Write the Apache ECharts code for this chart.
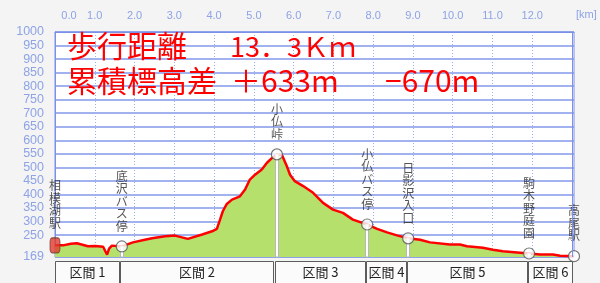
<!DOCTYPE html>
<html>
<head>
<meta charset="utf-8">
<script src="https://cdn.jsdelivr.net/npm/echarts@6/dist/echarts.min.js"></script>
<style>
html,body{margin:0;padding:0;background:#f4f4f4;}
#chart{width:600px;height:283px;}
</style>
</head>
<body>
<div id="chart"></div>
<script>
// ---- data ----
var profileKm   = [0.00,0.20,0.40,0.55,0.83,1.01,1.21,1.26,1.31,1.36,1.43,1.68,1.96,2.26,2.44,2.77,3.02,3.34,3.70,3.95,4.07,4.15,4.22,4.32,4.45,4.65,4.78,4.90,5.03,5.20,5.33,5.46,5.58,5.71,5.83,5.91,6.03,6.24,6.49,6.74,6.99,7.24,7.49,7.85,8.10,8.35,8.62,8.88,9.18,9.43,9.93,10.18,10.36,10.76,11.01,11.26,11.62,11.92,12.20,12.52,12.70,13.05];
var profileElev = [212,212,218,220,209,210,207,192,178,200,211,208,223,233,238,246,248,236,252,264,273,307,338,365,381,393,418,455,473,492,517,535,548,545,504,473,449,431,406,369,344,332,307,289,273,260,248,238,233,223,215,215,209,203,196,190,186,182,178,178,174,172];

var stationNames = ['相模湖駅','底沢バス停','小仏峠','小仏バス停','日影沢入口','駒木野庭園','高尾駅'];
var stationKm    = [0, 1.68, 5.58, 7.85, 8.88, 11.92, 13.05];
var stationElev  = [212, 208, 548, 289, 238, 182, 172];

var sectionNames = ['区間 1','区間 2','区間 3','区間 4','区間 5','区間 6'];
var sectionStart = [0, 1.63, 5.53, 7.82, 8.85, 11.89];
var sectionEnd   = [1.61, 5.48, 7.79, 8.83, 11.87, 13.0];

var xLabelValues = [0,1,2,3,4,5,6,7,8,9,10,11,12];
var xGridValues  = [1,2,3,4,5,6,7,8,9,10,11,12];
var yTickValues  = [169,250,300,350,400,450,500,550,600,650,700,750,800,850,900,950,1000];

var titleLines = [
  {text:'歩行距離', left:67, top:31, size:30},
  {text:'13．3Ｋｍ', left:230, top:32, size:27},
  {text:'累積標高差', left:67, top:66, size:30},
  {text:'＋633m', left:231, top:66, size:30},
  {text:'−670m', left:385, top:66, size:30}
];

// ---- build ----
var AX = '#8da3e6';
var profile = profileKm.map(function(k,i){return [k, profileElev[i]];});
var stations = stationNames.map(function(n,i){
  var d = {name:n, value:[stationKm[i], stationElev[i]]};
  if (i === 0) {
    d.symbol = 'roundRect';
    d.symbolSize = [10,15];
    d.itemStyle = {color:'#e23b2e', borderColor:'#6b3a2a', borderWidth:1};
  }
  return d;
});
var stubs = [];
for (var i = 1; i < stationKm.length - 1; i++) stubs.push([stationKm[i], stationElev[i]]);
var sections = sectionNames.map(function(n,i){return [sectionStart[i], sectionEnd[i], i];});

var titles = titleLines.map(function(t){
  return {text:t.text, left:t.left, top:t.top, padding:0,
    textStyle:{color:'#ff0000', fontSize:t.size, fontWeight:'normal', lineHeight:30,
      fontFamily:'"Noto Sans CJK JP", sans-serif'}};
});
titles.push({text:'[km]', left:576, top:9, padding:0,
  textStyle:{color:AX, fontSize:11, fontWeight:'normal', lineHeight:12, fontFamily:'"Liberation Sans", sans-serif'}});

var chart = echarts.init(document.getElementById('chart'), null, {renderer:'canvas'});
chart.setOption({
  backgroundColor:'#f4f4f4',
  animation:false,
  title: titles,
  grid:{left:55, top:32, right:26, bottom:26, show:true, backgroundColor:'#ffffff',
        borderColor:'#7b90e6', borderWidth:1},
  xAxis:{
    type:'value', position:'top', min:0, max:13.05,
    axisLine:{show:true, lineStyle:{color:'#7b90e6'}},
    axisTick:{show:false, customValues:xGridValues},
    splitLine:{show:true, lineStyle:{color:'#9ab0ee', type:[1,2], width:1}},
    axisLabel:{
      customValues:xLabelValues, color:AX, fontSize:11, margin:11,
      fontFamily:'"Liberation Sans", sans-serif',
      formatter:function(v){ return v === 0 ? '{z|0.0}' : v.toFixed(1); },
      rich:{z:{padding:[0,0,0,28], color:AX, fontSize:11, fontFamily:'"Liberation Sans", sans-serif'}}
    }
  },
  yAxis:{
    type:'value', min:169, max:1000,
    axisLine:{show:true, lineStyle:{color:'#7b90e6'}},
    axisTick:{show:false, customValues:yTickValues},
    splitLine:{show:true, lineStyle:{color:'#8299ea', width:1.5}},
    axisLabel:{customValues:yTickValues, color:AX, fontSize:12.5, margin:11,
      fontFamily:'"Liberation Sans", sans-serif',
      formatter:function(v){ return String(v); }}
  },
  series:[
    {
      type:'line', data:profile, symbol:'none', z:2,
      lineStyle:{color:'#ff0000', width:2.5},
      areaStyle:{color:'#b6e06c', opacity:1, origin:'start'},
      markLine:{silent:true, symbol:'none', label:{show:false},
        lineStyle:{color:'#7b90e6', type:'solid', width:1},
        data:[{xAxis:13.0}]}
    },
    {
      type:'custom', data:stubs, z:3, clip:false,
      renderItem:function(params, api){
        var p = api.coord([api.value(0), api.value(1)]);
        var b = api.coord([api.value(0), 169]);
        return {type:'rect', shape:{x:Math.round(p[0])-1.5, y:p[1], width:3, height:b[1]-p[1]},
          style:{fill:'#ffffff', stroke:'#b8b8b8', lineWidth:1}};
      }
    },
    {
      type:'scatter', data:stations, z:4, clip:false,
      symbol:'circle', symbolSize:11,
      itemStyle:{color:'#ffffff', borderColor:'#555555', borderWidth:1.2},
      label:{show:true, position:'top', distance:8, color:'#2a2a2a', fontSize:12, lineHeight:12.5,
        fontFamily:'"Noto Sans CJK JP", sans-serif',
        formatter:function(p){ return p.name.split('').join('\n'); }}
    },
    {
      type:'custom', data:sections, z:5, clip:false,
      renderItem:function(params, api){
        var x0 = Math.round(api.coord([api.value(0), 169])[0]) + 0.5;
        var x1 = Math.round(api.coord([api.value(1), 169])[0]) + 0.5;
        var y = Math.round(api.coord([0, 169])[1]) + 4.5;
        var name = sectionNames[api.value(2)];
        return {type:'group', children:[
          {type:'rect', shape:{x:x0, y:y, width:x1-x0, height:30},
            style:{fill:'#fbfbfb', stroke:'#5c5c5c', lineWidth:1}},
          {type:'text', style:{text:name, x:(x0+x1)/2, y:y+11, align:'center', verticalAlign:'middle',
            fill:'#222222', font:'13px "Noto Sans CJK JP", sans-serif'}}
        ]};
      }
    }
  ]
});
</script>
</body>
</html>
